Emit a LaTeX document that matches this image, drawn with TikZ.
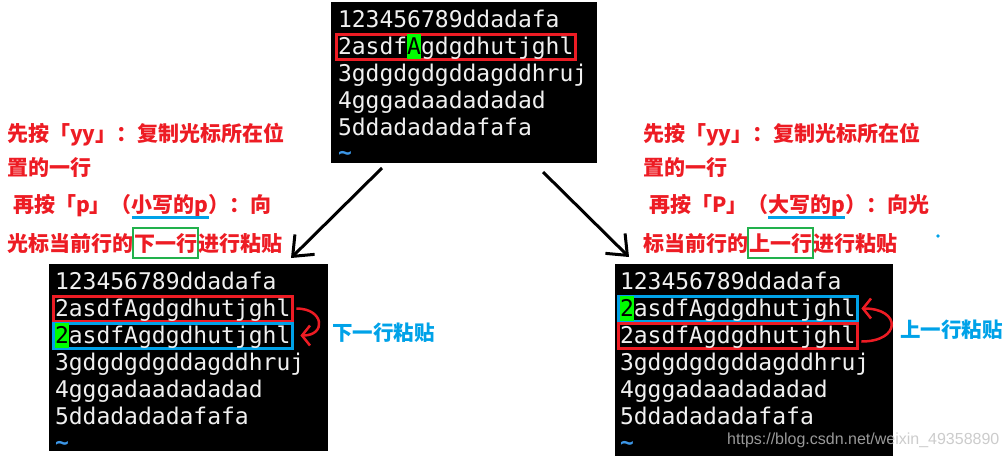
\documentclass[tikz,border=0pt]{standalone}
\usepackage{fontspec}
\usepackage{tikz}
\usetikzlibrary{arrows.meta,positioning}
\newfontfamily\cjk{Noto Sans CJK SC}
\newfontfamily\mono{DejaVu Sans Mono}
\newfontfamily\wmfont{Liberation Sans}
\definecolor{paintred}{RGB}{237,28,36}
\definecolor{paintblue}{RGB}{0,162,232}
\definecolor{paintgreen}{RGB}{34,177,76}
\definecolor{cursor}{RGB}{0,255,0}
\definecolor{termtext}{RGB}{240,240,240}
\definecolor{tildeblue}{RGB}{60,150,230}
\newcommand{\cur}[1]{{\fboxsep=0pt\colorbox{cursor}{\rule[-5pt]{0pt}{25pt}\textcolor{black}{#1}}}}

\begin{document}
\begin{tikzpicture}[x=1pt,y=-1pt,
    term/.style={fill=black, inner sep=0pt, outer sep=0pt, anchor=north west},
    row/.style={font=\mono\fontsize{23}{23}\selectfont, text=termtext, inner sep=0pt, outer sep=0pt, anchor=base west},
    tilderow/.style={row, text=tildeblue, font=\mono\bfseries\fontsize{23}{23}\selectfont},
    boxrow/.style={row, line width=3pt, inner xsep=2pt, inner ysep=3pt, text height=17pt, text depth=2pt},
    redrow/.style={boxrow, draw=paintred},
    bluerow/.style={boxrow, draw=paintblue},
    note/.style={font=\cjk\bfseries\fontsize{21}{21}\selectfont, text=paintred, inner sep=0pt, outer sep=0pt, text height=18.5pt, text depth=2.5pt, anchor=west},
    hit/.style={note, draw=paintgreen, line width=2.5pt, inner xsep=1pt, inner ysep=4.5pt},
    tag/.style={font=\cjk\bfseries\fontsize{20.5}{20.5}\selectfont, text=paintblue, inner sep=0pt, anchor=west},
    ul/.style={draw=paintblue, line width=3pt},
    pointer/.style={line width=3pt, -{Straight Barb[length=17pt,width=28pt]}},
    swing/.style={draw=paintred, line width=2.5pt, -{Straight Barb[length=8pt,width=20pt]}}]
    \useasboundingbox (0,0) rectangle (1008,458);

    % original buffer
    \node[term, minimum width=266pt, minimum height=161pt] (top) at (331,2) {};
    \node[row] (t1) at (338,27) {123456789ddadafa};
    \node[redrow] (t2) at (336,54) {2asdf\cur{A}gdgdhutjghl};
    \node[row] (t3) at (338,81) {3gdgdgdgddagddhruj};
    \node[row] (t4) at (338,108) {4gggadaadadadad};
    \node[row] (t5) at (338,135) {5ddadadadafafa};
    \node[tilderow] (t6) at (338,160) {\textasciitilde};

    % p
    \node[term, minimum width=279pt, minimum height=187pt] (bl) at (49,264) {};
    \node[row] (l1) at (55,289) {123456789ddadafa};
    \node[redrow] (l2) at (53,316) {2asdfAgdgdhutjghl};
    \node[bluerow] (l3) at (53,343) {\cur{2}asdfAgdgdhutjghl};
    \node[row] (l4) at (55,370) {3gdgdgdgddagddhruj};
    \node[row] (l5) at (55,397) {4gggadaadadadad};
    \node[row] (l6) at (55,424) {5ddadadadafafa};
    \node[tilderow] (l7) at (55,450) {\textasciitilde};

    % P
    \node[term, minimum width=278pt, minimum height=192pt] (br) at (615,264) {};
    \node[row] (r1) at (620,289) {123456789ddadafa};
    \node[bluerow] (r2) at (618,316) {\cur{2}asdfAgdgdhutjghl};
    \node[redrow] (r3) at (618,343) {2asdfAgdgdhutjghl};
    \node[row] (r4) at (620,370) {3gdgdgdgddagddhruj};
    \node[row] (r5) at (620,397) {4gggadaadadadad};
    \node[row] (r6) at (620,424) {5ddadadadafafa};
    \node[tilderow] (r7) at (620,450) {\textasciitilde};

    \draw[swing] ([xshift=4pt]l2.east) .. controls +(28,0) and +(26,0) .. ([xshift=8pt]l3.east);
    \draw[swing] ([shift={(4pt,-6pt)}]r3.east) .. controls +(40,0) and +(40,0) .. ([xshift=4pt]r2.east);
    \node[tag] (ltag) at (332,333) {下一行粘贴};
    \node[tag] (rtag) at (900,330) {上一行粘贴};

    % left notes
    \node[note] (a1) at (7,133) {先按「yy」：复制光标所在位};
    \node[note] (a2) at (7,167) {置的一行};
    \node[note] (a3) at (13,204) {再按「p」（};
    \node[note, right=0pt of a3] (a4) {小写的p};
    \node[note, right=0pt of a4] (a5) {）：向};
    \draw[ul] ([yshift=-2.5pt]a4.south west) -- ([yshift=-2.5pt]a4.south east);
    \node[note] (a6) at (7,243) {光标当前行的};
    \node[hit, right=0pt of a6] (a7) {下一行};
    \node[note, right=0pt of a7] (a8) {进行粘贴};

    % right notes
    \node[note] (b1) at (643,133) {先按「yy」：复制光标所在位};
    \node[note] (b2) at (643,167) {置的一行};
    \node[note] (b3) at (649,204) {再按「P」（};
    \node[note, right=0pt of b3] (b4) {大写的p};
    \node[note, right=0pt of b4] (b5) {）：向光};
    \draw[ul] ([yshift=-2.5pt]b4.south west) -- ([yshift=-2.5pt]b4.south east);
    \node[note] (b6) at (643,243) {标当前行的};
    \node[hit, right=0pt of b6] (b7) {上一行};
    \node[note, right=0pt of b7] (b8) {进行粘贴};
    \fill[paintblue] (938,236) circle (1.8pt);

    \coordinate (la) at ([shift={(51pt,-5pt)}]top.south west);
    \coordinate (lb) at ([shift={(242pt,6pt)}]bl.north west);
    \coordinate (ra) at ([shift={(-54pt,-9pt)}]top.south east);
    \coordinate (rb) at ([shift={(14pt,7pt)}]br.north west);
    \draw[pointer] (la) -- (lb);
    \draw[pointer] (ra) -- (rb);

    \node[font=\wmfont\fontsize{16}{16}\selectfont, text=gray!50!white, text opacity=0.8, anchor=west, inner sep=0pt] (wm) at (727,440) {https://blog.csdn.net/weixin\_49358890};
\end{tikzpicture}
\end{document}
